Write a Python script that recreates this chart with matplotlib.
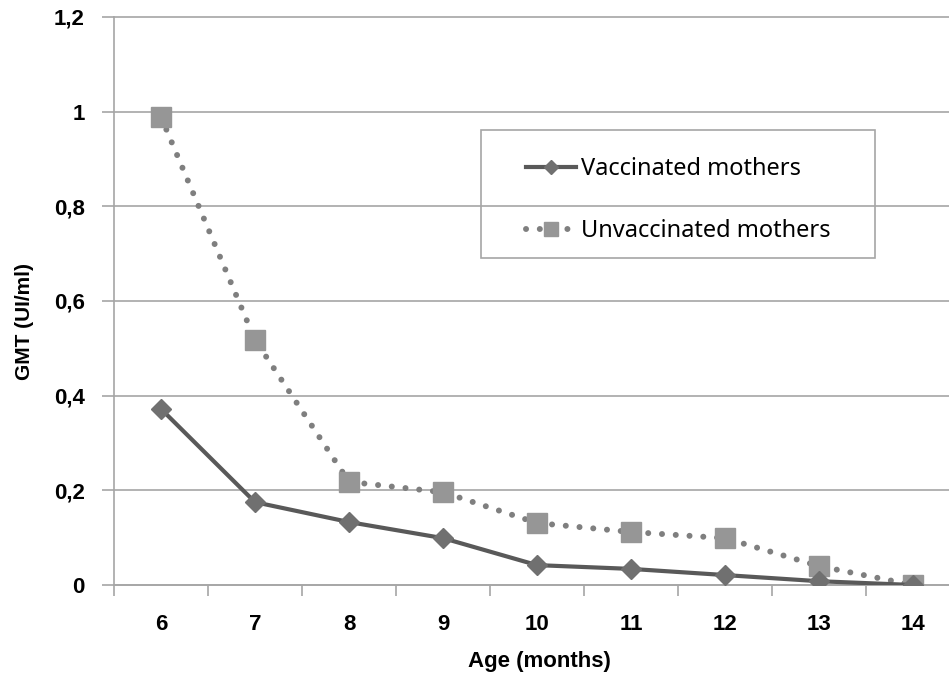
import matplotlib.pyplot as plt
from matplotlib.patches import Rectangle
import numpy as np

ages = [6, 7, 8, 9, 10, 11, 12, 13, 14]
vaccinated = [0.372, 0.175, 0.133, 0.099, 0.042, 0.034, 0.021, 0.008, 0.0]
unvaccinated = [0.989, 0.518, 0.218, 0.196, 0.131, 0.112, 0.099, 0.040, 0.0]
y_ticks = [0, 0.2, 0.4, 0.6, 0.8, 1.0, 1.2]
y_labels = ['0', '0,2', '0,4', '0,6', '0,8', '1', '1,2']

plt.rcParams['font.family'] = ['Noto Sans', 'DejaVu Sans']
BOLD = ['Liberation Sans', 'DejaVu Sans']

fig = plt.figure(figsize=(9.49, 6.74), dpi=100)
W, H = 949, 674
# plot area in pixels: x 114..960 (runs past the right edge), y 17..585
ax = fig.add_axes([114 / W, 1 - 585 / H, 846 / W, 568 / H])

pos = np.arange(len(ages))
grid_c = '#a6a6a6'

ax.plot(pos, unvaccinated, color='#7f7f7f', lw=4.3, ls=(0, (0.01, 2.3)),
        dash_capstyle='round', marker='s', ms=14, mfc='#969696', mec='#969696',
        label='Unvaccinated mothers', zorder=3)
ax.plot(pos, vaccinated, color='#595959', lw=3, marker='D', ms=10,
        mfc='#707070', mec='#707070', label='Vaccinated mothers', zorder=4)

ax.set_xlim(-0.5, len(ages) - 0.5)
ax.set_ylim(0, 1.2)
ax.set_yticks(y_ticks)
ax.set_yticklabels(y_labels, family=BOLD, fontweight='bold', fontsize=16)
ax.set_xticks(pos)
ax.set_xticklabels([str(a) for a in ages], family=BOLD, fontweight='bold',
                   fontsize=16)
ax.set_xticks(np.arange(-0.5, len(ages), 1), minor=True)
ax.tick_params(axis='x', which='major', length=0, pad=21)
ax.tick_params(axis='x', which='minor', length=8, color=grid_c, width=1.2)
ax.tick_params(axis='y', length=9, color=grid_c, width=1.2, pad=12)

ax.grid(axis='y', color=grid_c, lw=1.2, clip_on=False)
ax.set_axisbelow(True)
for s in ['top', 'right']:
    ax.spines[s].set_visible(False)
for s in ['left', 'bottom']:
    ax.spines[s].set_color(grid_c)
    ax.spines[s].set_linewidth(1.2)

fig.text(25 / W, 1 - 322 / H, 'GMT (UI/ml)', rotation=90, fontsize=15,
         family=BOLD, fontweight='bold', ha='center', va='center')
fig.text(539 / W, 1 - 661 / H, 'Age (months)', fontsize=16,
         family=BOLD, fontweight='bold', ha='center', va='center')

# legend box drawn separately (transparent, gridline shows through)
fig.patches.append(Rectangle((481 / W, 1 - 258 / H), 394 / W, 128 / H,
                             transform=fig.transFigure, facecolor='none',
                             edgecolor=grid_c, lw=1.2, zorder=5))
handles, labels = ax.get_legend_handles_labels()
leg = fig.legend(handles[::-1], labels[::-1], loc='upper left',
                 bbox_to_anchor=(526 / W, 1 - 157 / H),
                 fontsize=17, frameon=False, handlelength=2.1,
                 borderpad=0, labelspacing=1.6, handletextpad=0.25,
                 borderaxespad=0, markerscale=0.75)
leg.set_zorder(6)

fig.savefig('out.png', dpi=100)
